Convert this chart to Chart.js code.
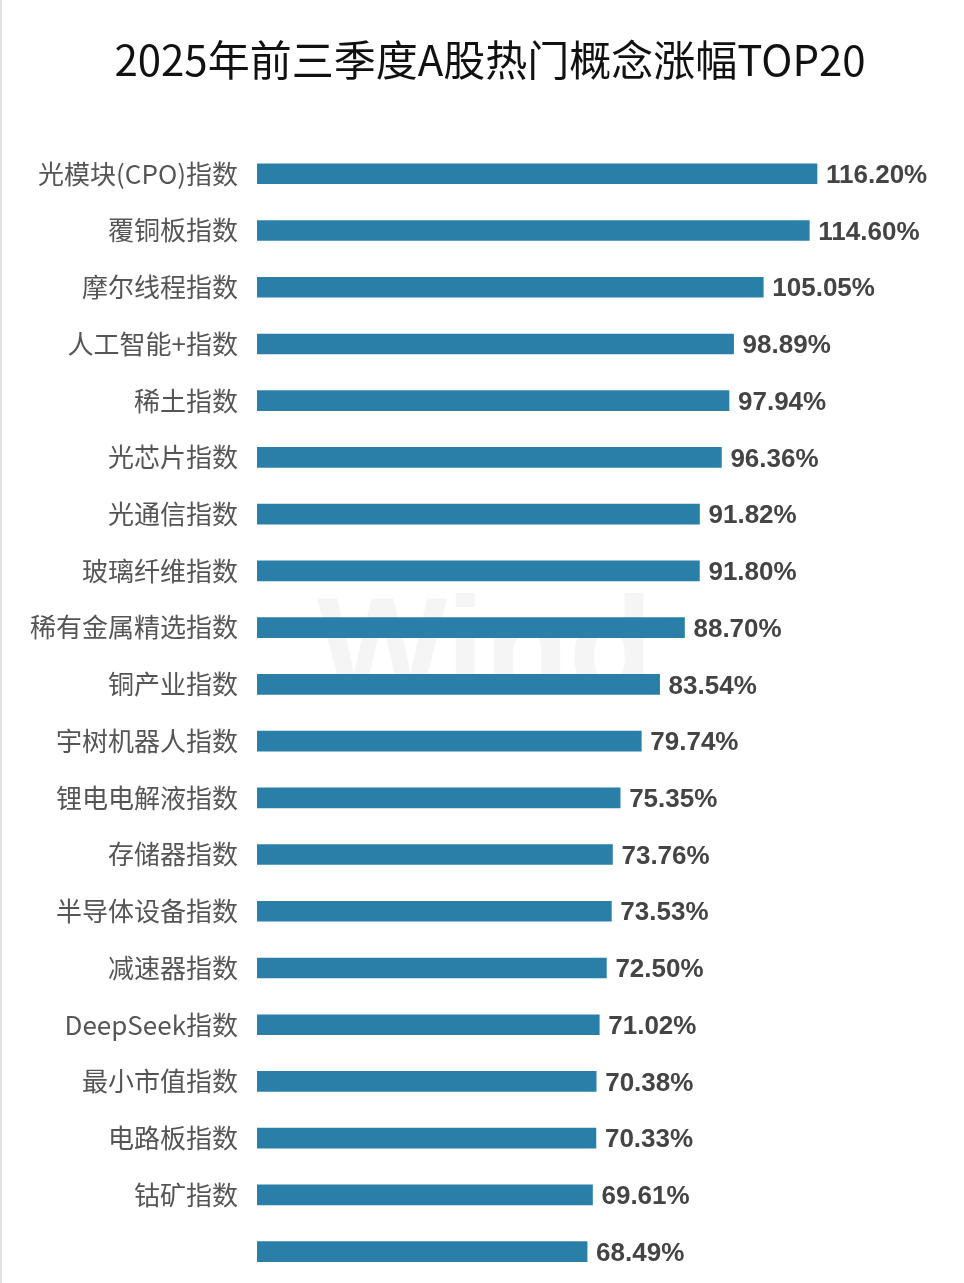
<!DOCTYPE html>
<html>
<head>
<meta charset="utf-8">
<script src="https://cdn.jsdelivr.net/npm/chart.js@4.4.1/dist/chart.umd.min.js"></script>
<style>
  html, body { margin: 0; padding: 0; background: #fff; }
  #wrap { width: 964px; height: 1283px; position: relative; }
  #borda { position: absolute; left: 0; top: 0; width: 2px; height: 1283px; background: #e2e2e2; }
  #grafico { display: block; }
</style>
</head>
<body>
<div id="wrap"><canvas id="grafico" width="964" height="1283"></canvas><div id="borda"></div></div>
<script>
// nomes dos indices (o ultimo esta borrado na imagem original)
const categorias = [
  "光模块(CPO)指数", "覆铜板指数", "摩尔线程指数", "人工智能+指数", "稀土指数",
  "光芯片指数", "光通信指数", "玻璃纤维指数", "稀有金属精选指数", "铜产业指数",
  "宇树机器人指数", "锂电电解液指数", "存储器指数", "半导体设备指数", "减速器指数",
  "DeepSeek指数", "最小市值指数", "电路板指数", "钴矿指数", ""
];
const valores = [
  116.20, 114.60, 105.05, 98.89, 97.94,
  96.36, 91.82, 91.80, 88.70, 83.54,
  79.74, 75.35, 73.76, 73.53, 72.50,
  71.02, 70.38, 70.33, 69.61, 68.49
];
const titulo = "2025年前三季度A股热门概念涨幅TOP20";

// marca d'agua + rotulos de valor
const plugins = [{
  id: "extras",
  beforeDatasetsDraw(chart) {
    const ctx = chart.ctx;
    ctx.save();
    ctx.font = "bold 138px 'Liberation Sans'";
    ctx.fillStyle = "rgba(0,0,0,0.04)";
    ctx.textAlign = "center";
    ctx.textBaseline = "middle";
    ctx.fillText("Wind", 485, 655);
    ctx.restore();
  },
  afterDatasetsDraw(chart) {
    const ctx = chart.ctx;
    const meta = chart.getDatasetMeta(0);
    ctx.save();
    ctx.font = "bold 26px 'Liberation Sans'";
    ctx.fillStyle = "#444";
    ctx.textAlign = "left";
    ctx.textBaseline = "middle";
    meta.data.forEach((bar, i) => {
      ctx.fillText(valores[i].toFixed(2) + "%", bar.x + 9, bar.y + 2);
    });
    ctx.restore();
  }
}];

var ctx = document.getElementById("grafico").getContext("2d");
window.grafico = new Chart(ctx, {
  type: "bar",
  data: {
    labels: categorias,
    datasets: [{
      data: valores,
      backgroundColor: "#2a7fa8",
      barThickness: 20,
      borderWidth: 0
    }]
  },
  plugins: plugins,
  options: {
    indexAxis: "y",
    responsive: false,
    animation: false,
    layout: { padding: { left: 16, right: 0, top: 0, bottom: 3 } },
    plugins: {
      legend: { display: false },
      tooltip: { enabled: false },
      title: {
        display: true,
        text: titulo,
        color: "#111",
        font: { family: "'Noto Sans CJK SC'", size: 42, weight: "400" },
        padding: { top: 35, bottom: 60 }
      }
    },
    scales: {
      x: { display: false, min: 0, max: 146.7 },
      y: {
        grid: { display: false, drawTicks: false },
        border: { display: false },
        ticks: {
          color: "#555",
          padding: 19,
          font: { family: "'Noto Sans CJK SC'", size: 26 }
        },
        afterFit(scale) {
          scale.width = 241;
          scale.paddingTop = 0;
          scale.paddingBottom = 0;
        }
      }
    }
  }
});
</script>
</body>
</html>
